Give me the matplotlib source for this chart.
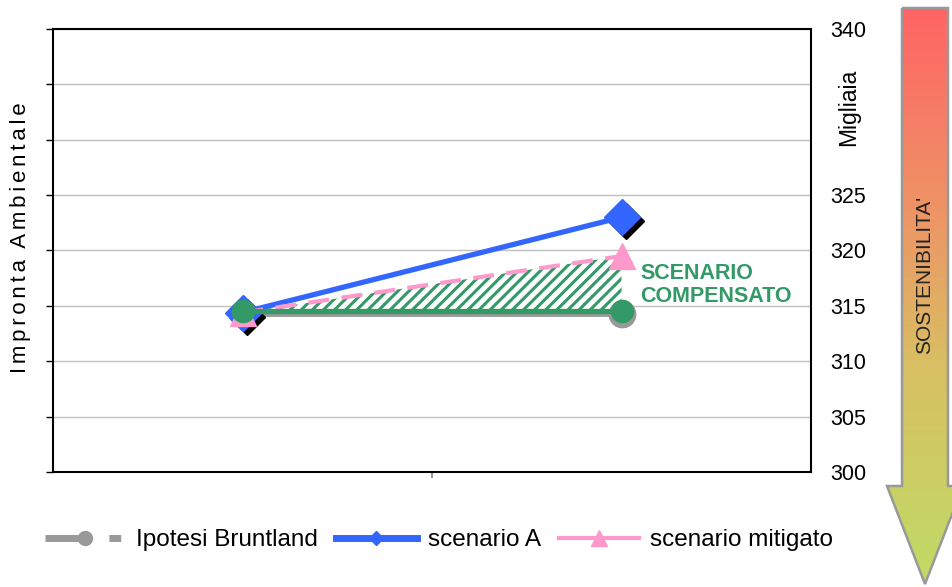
import numpy as np
import matplotlib
matplotlib.use('Agg')
import matplotlib.pyplot as plt
from matplotlib.lines import Line2D
from matplotlib.patches import Polygon
from matplotlib.colors import LinearSegmentedColormap
from matplotlib.transforms import offset_copy

plt.rcParams['font.family'] = ['Liberation Sans', 'DejaVu Sans']
plt.rcParams['hatch.linewidth'] = 2.2

# data
categories = [0, 1]
bruntland = [314.3, 314.3]
scenario_a = [314.4, 323.0]
mitigato = [314.4, 319.5]
compensato = [314.5, 314.5]
y_ticks = [300, 305, 310, 315, 320, 325, 330, 335, 340]
y_labels = ['300', '305', '310', '315', '320', '325', '', '', '340']

grey = '#999999'
blue = '#3366ff'
pink = '#ff99cc'
green = '#339966'

fig = plt.figure(figsize=(9.52, 5.87), dpi=100)
ax = fig.add_axes([53 / 952, 115 / 587, 758 / 952, 443 / 587])

# hatched area between compensated and mitigated scenario
ax.fill_between(categories, compensato, mitigato, facecolor='white',
                edgecolor=green, hatch='///', linewidth=0, zorder=2)

ax.plot(categories, bruntland, color=grey, lw=3.5, marker='o', ms=19,
        zorder=3)

# black shadow under the diamonds
shadow = offset_copy(ax.transData, fig=fig, x=4, y=-4, units='dots')
ax.plot(categories, scenario_a, ls='none', marker='D', ms=18, color='black',
        transform=shadow, zorder=4)
ax.plot(categories, scenario_a, color=blue, lw=3.8, marker='D', ms=18,
        zorder=5)
ax.plot(categories, mitigato, color=pink, lw=3, ls=(0, (5, 3)), marker='^',
        ms=19, zorder=6)
ax.plot(categories, compensato, color=green, lw=3.8, marker='o', ms=16,
        zorder=7)

ax.text(1.05, 316.9, 'SCENARIO\nCOMPENSATO', color=green, fontsize=15.5,
        fontweight='bold', va='center', ha='left', linespacing=1.1, zorder=8)

ax.set_xlim(-0.5, 1.5)
ax.set_ylim(300, 340)
ax.set_xticks([0.5])
ax.set_xticklabels([''])
ax.tick_params(axis='x', length=4, color=grey, width=1.5)
ax.set_yticks(y_ticks)
ax.set_yticklabels(y_labels)
ax.tick_params(axis='y', left=True, labelleft=False, right=False,
               labelright=True, length=5, width=1, pad=9, labelsize=15.5)
ax.yaxis.grid(True, color='#c0c0c0', lw=1)
ax.set_axisbelow(True)
for s in ax.spines.values():
    s.set_linewidth(1.5)

ax.text(1.049, 0.824, 'Migliaia', transform=ax.transAxes, rotation=90,
        ha='center', va='center', fontsize=16.5)
sp = '\u2006'
spaced = sp.join('Impronta') + sp * 3 + sp.join('Ambientale')
fig.text(21 / 952, 1 - 238 / 587, spaced,
         rotation=90, ha='center', va='center', fontsize=16)

# legend
handles = [
    Line2D([], [], color=grey, lw=5, marker='o', ms=10,
           ls=(0, (5.5, 3.7, 1.7, 20)), dash_capstyle='butt'),
    Line2D([], [], color=blue, lw=5, marker='D', ms=7),
    Line2D([], [], color=pink, lw=3, marker='^', ms=12),
]
labels = ['Ipotesi Bruntland', 'scenario A', 'scenario mitigato']
fig.legend(handles, labels, loc='center', bbox_to_anchor=(439 / 952, 47 / 587),
           ncol=3, frameon=False, handlelength=3.3, handletextpad=0.45,
           columnspacing=0.75, fontsize=17.5)

# gradient arrow on the right
ov = fig.add_axes([0, 0, 1, 1], zorder=-1)
ov.set_xlim(0, 952)
ov.set_ylim(587, 0)
ov.axis('off')
cmap = LinearSegmentedColormap.from_list(
    'sost', [(0.0, '#ff6464'), (0.35, '#ee9466'), (0.62, '#d8bf62'),
             (1.0, '#c0dc66')])
grad = np.linspace(0, 1, 256).reshape(-1, 1)
img = ov.imshow(grad, cmap=cmap, aspect='auto', extent=(885, 965, 586, 8))
arrow = Polygon([(902, 8), (948, 8), (948, 486), (963, 486), (925, 584),
                 (887, 486), (902, 486)], closed=True, facecolor='none',
                edgecolor=grey, lw=1.8)
ov.add_patch(arrow)
img.set_clip_path(arrow)
ov.text(925, 275, "SOSTENIBILITA'", rotation=90, ha='center', va='center',
        fontsize=15, color='#222222')

fig.savefig('out.png', dpi=100)
